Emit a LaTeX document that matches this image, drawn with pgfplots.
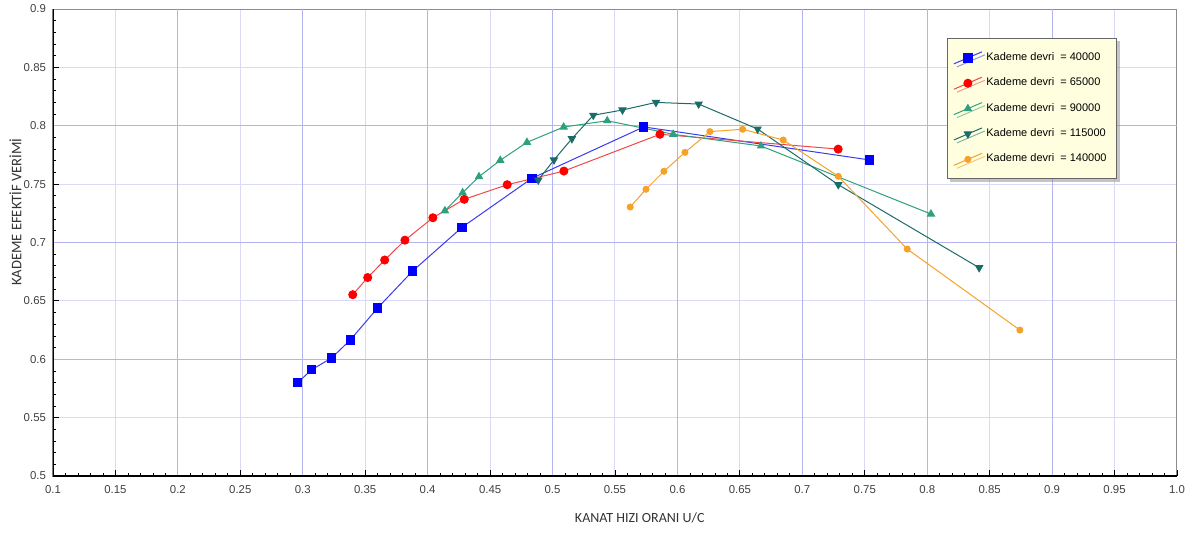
\documentclass[border=0pt]{standalone}
\usepackage{fontspec}
\setmainfont{Liberation Sans}
\newfontfamily\labelfont{Carlito}
\usepackage{pgfplots}
\pgfplotsset{compat=1.18}
\usetikzlibrary{shadows}

\definecolor{c40}{HTML}{0000FF}
\definecolor{c40l}{HTML}{3A3AF0}
\definecolor{c65}{HTML}{FF0000}
\definecolor{c65l}{HTML}{F04848}
\definecolor{c90}{HTML}{2EA07C}
\definecolor{c115}{HTML}{1B6B68}
\definecolor{c140}{HTML}{F5A22A}
\definecolor{gridmaj}{HTML}{B4B4F0}
\definecolor{gridmin}{HTML}{DADAF6}
\definecolor{legfill}{HTML}{FFFFE0}

\begin{document}
\begin{tikzpicture}
  \begin{axis}[
    name=ax,
    scale only axis,
    width=562pt, height=233.5pt,
    xmin=0.1, xmax=1.0, ymin=0.5, ymax=0.9,
    xtick={0.1,0.15,0.2,0.25,0.3,0.35,0.4,0.45,0.5,0.55,0.6,0.65,0.7,0.75,0.8,0.85,0.9,0.95,1.0},
    xticklabels={0.1,0.15,0.2,0.25,0.3,0.35,0.4,0.45,0.5,0.55,0.6,0.65,0.7,0.75,0.8,0.85,0.9,0.95,1.0},
    ytick={0.5,0.55,0.6,0.65,0.7,0.75,0.8,0.85,0.9},
    yticklabels={0.5,0.55,0.6,0.65,0.7,0.75,0.8,0.85,0.9},
    minor x tick num=4, minor y tick num=4,
    tick align=inside, xtick pos=bottom, ytick pos=left,
    major tick length=3pt, minor tick length=1.5pt,
    tick style={black, line width=0.4pt},
    ticklabel style={font=\fontsize{5.7}{7}\selectfont, text=black!75},
    xticklabel style={yshift=-1pt},
    /pgf/number format/assume math mode=true,
    grid=major,
    major grid style={gridmin, line width=0.5pt},
    extra x ticks={0.2,0.3,0.4,0.5,0.6,0.7,0.8,0.9},
    extra y ticks={0.6,0.7,0.8},
    extra x tick labels={}, extra y tick labels={},
    extra tick style={major grid style={gridmaj, line width=0.6pt}, major tick length=0pt},
    axis line style={black!45, line width=0.5pt},
    xlabel={KANAT HIZI ORANI U/C},
    ylabel={KADEME EFEKT\.{I}F VER\.{I}M\.{I}},
    every axis x label/.style={at={(axis description cs:0.522,-0.09)}, anchor=center, font=\labelfont\fontsize{7}{8}\selectfont, text=black!80},
    every axis y label/.style={at={(axis description cs:-0.0335,0.565)}, rotate=90, anchor=center, font=\labelfont\fontsize{7.3}{8}\selectfont, text=black!80},
    legend style={
      at={(axis description cs:0.9466,0.938)}, anchor=north east,
      fill=legfill, draw=black!60, line width=0.4pt,
      drop shadow={shadow xshift=1.5pt, shadow yshift=-1.5pt, fill=black!45},
      font=\fontsize{5.5}{6.5}\selectfont,
      row sep=3.2pt, inner xsep=3pt, inner ysep=5pt,
      legend cell align=left,
    },
    legend image code/.code={
      \draw[#1, mark=none] (0pt,-3pt) -- (14pt,3pt);
      \draw[#1, only marks] plot coordinates {(7pt,0pt)};
    },
  ]
    \addplot[c40l, line width=0.5pt, mark=square*, mark size=2.1pt, mark options={c40, fill=c40, solid}] coordinates {
      (0.296,0.580) (0.307,0.591) (0.323,0.601) (0.338,0.6165) (0.360,0.644)
      (0.388,0.6756) (0.4275,0.713) (0.4835,0.755) (0.573,0.799) (0.754,0.7707)
    };
    \addlegendentry{Kademe devri\ \ = 40000}
    \addplot[c65l, line width=0.5pt, mark=*, mark size=2pt, mark options={c65, fill=c65, solid}] coordinates {
      (0.340,0.6553) (0.352,0.670) (0.3656,0.685) (0.3818,0.702) (0.4042,0.7212)
      (0.4293,0.737) (0.4637,0.7495) (0.5091,0.7612) (0.586,0.7927) (0.7287,0.780)
    };
    \addlegendentry{Kademe devri\ \ = 65000}
    \addplot[c90, line width=0.5pt, mark=triangle*, mark size=2pt, mark options={c90, fill=c90, solid}] coordinates {
      (0.4138,0.7272) (0.428,0.7427) (0.4411,0.7564) (0.4581,0.7704) (0.4795,0.7858)
      (0.5089,0.7989) (0.5438,0.8043) (0.5966,0.7927) (0.6669,0.7827) (0.8030,0.7244)
    };
    \addlegendentry{Kademe devri\ \ = 90000}
    \addplot[c115, line width=0.5pt, mark=triangle*, mark size=2pt, mark options={c115, fill=c115, solid, rotate=180}] coordinates {
      (0.4886,0.7535) (0.5011,0.7707) (0.5155,0.7889) (0.5326,0.809) (0.556,0.8135)
      (0.5828,0.820) (0.617,0.8186) (0.6642,0.7972) (0.7288,0.7495) (0.8416,0.6784)
    };
    \addlegendentry{Kademe devri\ \ = 115000}
    \addplot[c140, line width=0.5pt, mark=*, mark size=1.5pt, mark options={c140, fill=c140, solid}] coordinates {
      (0.5622,0.7304) (0.5748,0.7456) (0.5892,0.761) (0.606,0.7772) (0.626,0.795)
      (0.6522,0.797) (0.6847,0.7878) (0.7288,0.7567) (0.784,0.6944) (0.8742,0.625)
    };
    \addlegendentry{Kademe devri\ \ = 140000}
    \draw[black, line width=1.2pt] (rel axis cs:0,1) -- (rel axis cs:0,0) -- (rel axis cs:1,0);
  \end{axis}
  \pgfresetboundingbox
  \path ([shift={(-26.5pt,-28pt)}]ax.south west) rectangle ([shift={(568.5pt,238pt)}]ax.south west);
\end{tikzpicture}
\end{document}
